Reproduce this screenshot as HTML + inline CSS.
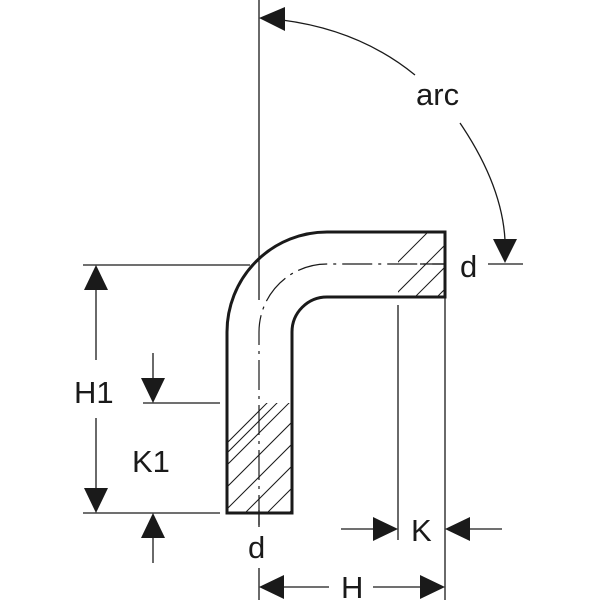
<!DOCTYPE html>
<html><head><meta charset="utf-8"><style>html,body{margin:0;padding:0;background:#fff}svg{display:block}</style></head><body>
<svg width="600" height="600" viewBox="0 0 600 600" xmlns="http://www.w3.org/2000/svg" font-family="Liberation Sans, sans-serif" fill="none" stroke="#1a1a1a">
<defs>
<clipPath id="c1"><rect x="227" y="403" width="65" height="110"/></clipPath>
<clipPath id="c2"><rect x="398" y="232" width="47" height="65"/></clipPath>
</defs>
<!-- hatching -->
<g stroke-width="1" clip-path="url(#c1)">
<path d="M200 470 L280 390 M200 492 L290 402 M200 514 L310 404 M210 526 L320 416 M232 526 L320 438 M254 526 L320 460 M276 526 L320 482 M210 470 L290 390"/>
</g>
<g stroke-width="1" clip-path="url(#c2)">
<path d="M390 270 L440 220 M390 300 L460 230 M410 302 L470 242 M430 304 L480 254"/>
</g>
<!-- pipe -->
<path d="M227 513 L227 332 A100 100 0 0 1 327 232 L445 232 L445 297 L327 297 A35 35 0 0 0 292 332 L292 513 Z" stroke-width="3" fill="none"/>
<!-- centerline dash-dot -->
<path d="M259 525 L259 332 A68 68 0 0 1 327 264 L445 264" stroke-width="1.2" stroke-dasharray="30 6 3 6"/>
<!-- axis and lines -->
<g stroke-width="1.3">
<path d="M259 0 L259 300"/>
<path d="M259 510 L259 527 M259 568 L259 600"/>
<path d="M83 265 L250 265 M420 264 L445 264"/>
<path d="M488 264 L523 264"/>
<path d="M83 513 L220 513 M143 403 L220 403"/>
<path d="M96 290 L96 360 M96 418 L96 490"/>
<path d="M153 353 L153 380 M153 537 L153 563"/>
<path d="M398 305 L398 540 M445 297 L445 600"/>
<path d="M341 529 L375 529 M468 529 L502 529"/>
<path d="M280 587 L329 587 M373 587 L422 587"/>
<path d="M282 20 Q360 30 415 75"/>
<path d="M460 123 Q502 185 505 240"/>
</g>
<g fill="#1a1a1a" stroke="none">
<path d="M96 265 L84 290 L108 290 Z"/>
<path d="M96 513 L84 488 L108 488 Z"/>
<path d="M153 403 L141 378 L165 378 Z"/>
<path d="M153 513 L141 538 L165 538 Z"/>
<path d="M398 529 L373 517 L373 541 Z"/>
<path d="M445 529 L470 517 L470 541 Z"/>
<path d="M259 587 L284 575 L284 599 Z"/>
<path d="M445 587 L420 575 L420 599 Z"/>
<path d="M259 18 L285 7 L285 31 Z"/>
<path d="M505 263 L493 239 L517 239 Z"/>
</g>
<g fill="#1a1a1a" stroke="none" font-size="31">
<text x="416" y="105">arc</text>
<text x="460" y="277">d</text>
<text x="248" y="558">d</text>
<text x="74" y="403">H1</text>
<text x="132" y="472">K1</text>
<text x="411" y="541">K</text>
<text x="341" y="598">H</text>
</g>
</svg>
</body></html>
